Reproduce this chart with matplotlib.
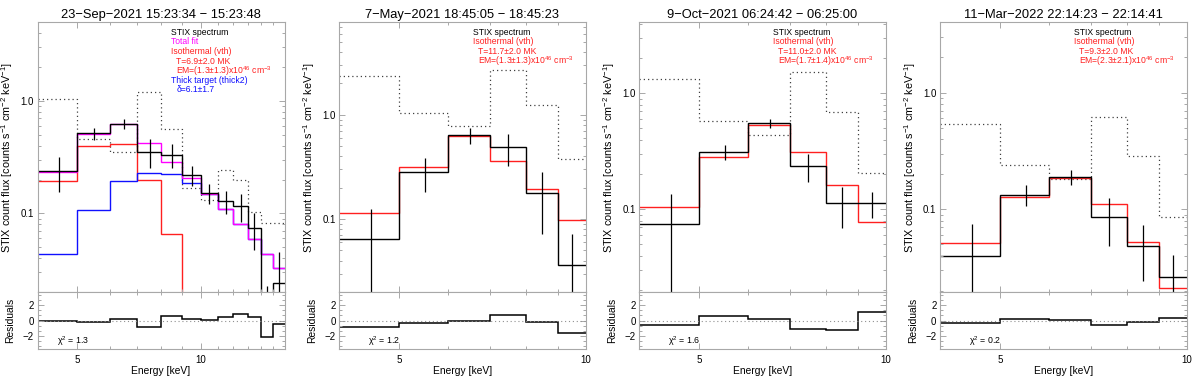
import numpy as np
import matplotlib
matplotlib.use("Agg")
import matplotlib.pyplot as plt
from matplotlib.ticker import FixedLocator, FixedFormatter, NullFormatter

plt.rcParams["font.family"] = ["Liberation Sans", "DejaVu Sans"]
plt.rcParams["mathtext.fontset"] = "custom"
plt.rcParams["mathtext.rm"] = "Liberation Sans"
plt.rcParams["mathtext.default"] = "regular"

# energy bin edges (keV)
edges_wide = [4, 5, 6, 7, 8, 9, 10, 11, 12, 13, 14, 15, 16]
edges_narrow = [4, 5, 6, 7, 8, 9, 10]

titles = ["23\u2212Sep\u22122021 15:23:34 \u2212 15:23:48",
          "7\u2212May\u22122021 18:45:05 \u2212 18:45:23",
          "9\u2212Oct\u22122021 06:24:42 \u2212 06:25:00",
          "11\u2212Mar\u22122022 22:14:23 \u2212 22:14:41"]

# panel 1
p1_counts = [0.237, 0.514, 0.622, 0.354, 0.333, 0.220, 0.151, 0.128, 0.116, 0.0746, 0.010, 0.0242]
p1_err = [0.083, 0.065, 0.065, 0.10, 0.08, 0.045, 0.03, 0.03, 0.032, 0.027, 0.0125, 0.021]
p1_total = [0.235, 0.51, 0.62, 0.422, 0.288, 0.207, 0.148, 0.110, 0.080, 0.0589, 0.0434, 0.0328]
p1_thermal = [0.193, 0.40, 0.414, 0.199, 0.066, 0.018, 0.004, 0.001, 0.0003, 0.0001, 0.00003, 0.00001]
p1_thick = [0.0434, 0.108, 0.193, 0.229, 0.224, 0.187, 0.149, 0.110, 0.080, 0.0589, 0.0434, 0.0328]
p1_bkg = [1.035, 0.458, 0.349, 1.21, 0.562, 0.168, 0.132, 0.244, 0.196, 0.103, 0.082, 0.082]
p1_resid = [0.0, -0.12, 0.17, -0.83, 0.62, 0.21, 0.04, 0.46, 0.83, 0.46, -2.1, -0.42]

# panel 2
p2_counts = [0.0643, 0.282, 0.634, 0.49, 0.177, 0.036]
p2_err = [0.061, 0.10, 0.11, 0.165, 0.105, 0.036]
p2_thermal = [0.114, 0.313, 0.63, 0.362, 0.195, 0.098]
p2_bkg = [2.36, 1.03, 0.784, 2.7, 1.25, 0.376]
p2_resid = [-0.79, -0.25, 0.0, 0.71, -0.21, -1.63]

# panel 3
p3_counts = [0.0743, 0.314, 0.551, 0.236, 0.1127, 0.1127]
p3_err = [0.061, 0.046, 0.05, 0.065, 0.044, 0.028]
p3_thermal = [0.1054, 0.284, 0.537, 0.31, 0.163, 0.0778]
p3_bkg = [1.33, 0.573, 0.44, 1.54, 0.69, 0.204]
p3_resid = [-0.5, 0.54, 0.25, -1.1, -1.15, 1.17]

# panel 4
p4_counts = [0.0399, 0.134, 0.19, 0.0865, 0.0489, 0.0262]
p4_err = [0.035, 0.028, 0.028, 0.038, 0.0245, 0.0145]
p4_thermal = [0.0512, 0.128, 0.184, 0.111, 0.053, 0.0214]
p4_bkg = [0.543, 0.239, 0.182, 0.62, 0.288, 0.0855]
p4_resid = [-0.29, 0.17, 0.125, -0.58, -0.17, 0.29]

chi2 = ["1.3", "1.2", "1.6", "0.2"]
temps = ["6.9\u00b12.0", "11.7\u00b12.0", "11.0\u00b12.0", "9.3\u00b12.0"]
ems = ["1.3\u00b11.3", "1.3\u00b11.3", "1.7\u00b11.4", "2.3\u00b12.1"]
delta_txt = "6.1\u00b11.7"
ylims = [(0.02, 5.0), (0.02, 7.7), (0.0194, 4.1), (0.0196, 4.0)]

RED = "#ff2020"
MAG = "#ff00ff"
BLUE = "#1010ff"
FRAME = "#a8a8a8"

panels = [
    dict(edges=edges_wide, counts=p1_counts, err=p1_err, thermal=p1_thermal,
         bkg=p1_bkg, resid=p1_resid, total=p1_total, thick=p1_thick),
    dict(edges=edges_narrow, counts=p2_counts, err=p2_err, thermal=p2_thermal,
         bkg=p2_bkg, resid=p2_resid),
    dict(edges=edges_narrow, counts=p3_counts, err=p3_err, thermal=p3_thermal,
         bkg=p3_bkg, resid=p3_resid),
    dict(edges=edges_narrow, counts=p4_counts, err=p4_err, thermal=p4_thermal,
         bkg=p4_bkg, resid=p4_resid),
]

fig = plt.figure(figsize=(12, 3.79), dpi=100)
lefts = [0.0313, 0.2825, 0.5325, 0.7833]
width = 0.2058
main_bot, main_h = 0.2296, 0.7116
res_bot, res_h = 0.0784, 0.1512


def style_axes(ax):
    for s in ax.spines.values():
        s.set_color(FRAME)
        s.set_linewidth(0.8)
    ax.tick_params(which="both", direction="in", top=True, right=True,
                   color=FRAME, labelsize=7, width=0.7)
    ax.tick_params(which="major", length=4)
    ax.tick_params(which="minor", length=2.5)


def set_xticks(ax, edges):
    ax.set_xscale("log")
    ax.set_xlim(edges[0], edges[-1])
    ax.xaxis.set_major_locator(FixedLocator([5, 10]))
    ax.xaxis.set_major_formatter(FixedFormatter(["5", "10"]))
    ax.xaxis.set_minor_locator(FixedLocator([e for e in edges if e not in (5, 10)]))
    ax.xaxis.set_minor_formatter(NullFormatter())


for i, p in enumerate(panels):
    ax = fig.add_axes([lefts[i], main_bot, width, main_h])
    rax = fig.add_axes([lefts[i], res_bot, width, res_h])
    edges = np.array(p["edges"], dtype=float)
    centers = 0.5 * (edges[:-1] + edges[1:])
    counts = np.array(p["counts"])
    err = np.array(p["err"])

    ax.stairs(p["bkg"], edges, baseline=None, color="#404040", lw=0.9,
              linestyle=(0, (1, 2.4)))
    ax.stairs(p["thermal"], edges, baseline=None, color=RED, lw=1.0)
    if "thick" in p:
        ax.stairs(p["thick"], edges, baseline=None, color=BLUE, lw=1.0)
        ax.stairs(p["total"], edges, baseline=None, color=MAG, lw=1.0)
    ax.stairs(counts, edges, baseline=None, color="black", lw=1.0)
    ax.vlines(centers, np.clip(counts - err, 1e-5, None), counts + err,
              color="black", lw=0.9)

    ax.set_yscale("log")
    ax.set_ylim(*ylims[i])
    set_xticks(ax, p["edges"])
    ax.tick_params(axis="x", labelbottom=False)
    ax.yaxis.set_major_locator(FixedLocator([0.1, 1.0]))
    ax.yaxis.set_major_formatter(FixedFormatter(["0.1", "1.0"]))
    ax.yaxis.set_minor_locator(FixedLocator(
        [m * d for d in (0.01, 0.1, 1.0) for m in range(2, 10)]))
    ax.yaxis.set_minor_formatter(NullFormatter())
    style_axes(ax)
    ax.tick_params(axis="y", pad=2.5)
    ax.set_ylabel("STIX count flux [counts s$^{-1}$ cm$^{-2}$ keV$^{-1}$]",
                  fontsize=7.8)
    ax.yaxis.set_label_coords(-0.09, 0.5)
    ax.set_title(titles[i], fontsize=9.3, pad=3)

    # legend text
    tx, ind = 0.542, 0.562
    ys = [0.963, 0.928, 0.891, 0.856, 0.818, 0.784, 0.750]
    em_txt = "EM=(" + ems[i] + ")x10$^{46}$ cm$^{-3}$"
    if i == 0:
        lines = [(tx, "STIX spectrum", "black"), (tx, "Total fit", MAG),
                 (tx, "Isothermal (vth)", RED),
                 (ind, "T=" + temps[i] + " MK", RED),
                 (ind, em_txt, RED),
                 (tx, "Thick target (thick2)", BLUE),
                 (ind, "\u03b4=" + delta_txt, BLUE)]
    else:
        lines = [(tx, "STIX spectrum", "black"),
                 (tx, "Isothermal (vth)", RED),
                 (ind, "T=" + temps[i] + " MK", RED),
                 (ind, em_txt, RED)]
    for (x, s, c), y in zip(lines, ys):
        ax.text(x, y, s, color=c, fontsize=6.2, transform=ax.transAxes,
                ha="left", va="center")

    # residuals
    rax.stairs(p["resid"], edges, baseline=None, color="black", lw=1.1)
    rax.axhline(0, color="#909090", lw=0.8, linestyle=(0, (1, 2.5)))
    set_xticks(rax, p["edges"])
    rax.set_ylim(-3.7, 3.7)
    rax.yaxis.set_major_locator(FixedLocator([-2, 0, 2]))
    rax.yaxis.set_minor_locator(FixedLocator(np.arange(-10, 11) * 2 / 3))
    style_axes(rax)
    rax.tick_params(axis="y", pad=2.5)
    rax.tick_params(axis="x", pad=4)
    rax.set_ylabel("Residuals", fontsize=7.4)
    rax.yaxis.set_label_coords(-0.09, 0.5)
    rax.set_xlabel("Energy [keV]", fontsize=7.4, labelpad=1)
    rax.text(4.45, -2.6, "\u03c7$^2$ = " + chi2[i], fontsize=6.3, va="center")

fig.savefig("out.png", dpi=100)
